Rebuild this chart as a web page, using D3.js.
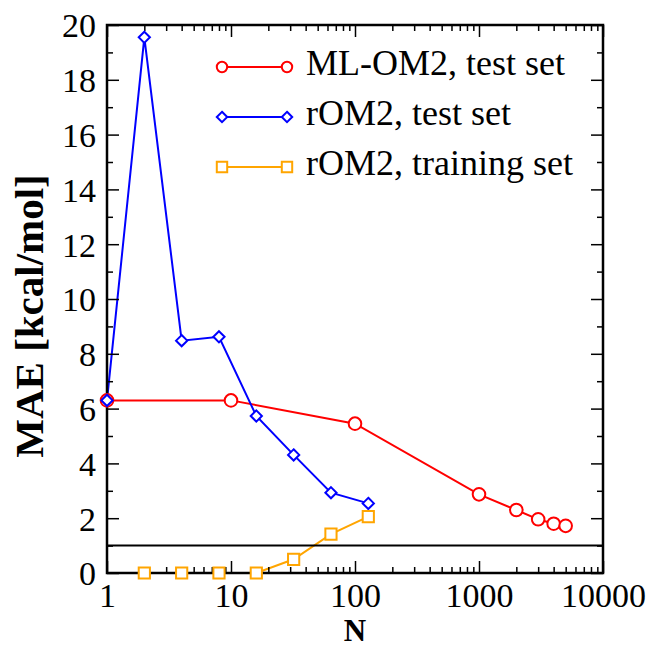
<!DOCTYPE html>
<html>
<head>
<meta charset="utf-8">
<script src="https://cdn.jsdelivr.net/npm/d3@7"></script>
<style>
    body { margin: 0; background: #fff; }
    svg { display: block; font-family: "Liberation Serif", "Times New Roman", serif; }
</style>
</head>
<body>
<div id="chart"></div>
<script>
// data
const seriesNames = ['ML-OM2, test set', 'rOM2, test set', 'rOM2, training set'];
const nMl = [1, 10, 100, 1000, 2000, 3000, 4000, 5000];
const maeMl = [6.3, 6.3, 5.45, 2.87, 2.3, 1.96, 1.8, 1.72];
const nRomTest = [1, 2, 4, 8, 16, 32, 64, 128];
const maeRomTest = [6.3, 19.55, 8.48, 8.62, 5.73, 4.31, 2.93, 2.54];
const nRomTrain = [2, 4, 8, 16, 32, 64, 128];
const maeRomTrain = [0, 0, 0, 0, 0.5, 1.42, 2.06];
const xTicks = [1, 10, 100, 1000, 10000];
const yTicks = [0, 2, 4, 6, 8, 10, 12, 14, 16, 18, 20];
const refLine = 1;

const width = 651;
const height = 647;
const margin = { top: 25, right: 48, bottom: 74, left: 107 };

const svg = d3.select('#chart')
    .append('svg')
    .attr('width', width)
    .attr('height', height);

const xScale = d3.scaleLog()
    .domain([1, 10000])
    .range([margin.left, width - margin.right]);

const yScale = d3.scaleLinear()
    .domain([0, 20])
    .range([height - margin.bottom, margin.top]);

const series = [
    { name: seriesNames[0], xs: nMl, ys: maeMl, color: '#ff0000', shape: 'circle' },
    { name: seriesNames[1], xs: nRomTest, ys: maeRomTest, color: '#0000ff', shape: 'diamond' },
    { name: seriesNames[2], xs: nRomTrain, ys: maeRomTrain, color: '#ffa500', shape: 'square' },
];

// marker path for each shape, centred on 0,0
function markerPath(shape, s) {
    if (shape === 'circle') return d3.symbol(d3.symbolCircle, Math.PI * s * s)();
    if (shape === 'diamond') return `M0,${-s}L${s},0L0,${s}L${-s},0Z`;
    return `M${-s},${-s}H${s}V${s}H${-s}Z`;
}

const line = d3.line()
    .x((d) => xScale(d[0]))
    .y((d) => yScale(d[1]));

// data lines first
series.forEach((s) => {
    svg.append('path')
        .datum(d3.zip(s.xs, s.ys))
        .attr('d', line)
        .attr('fill', 'none')
        .attr('stroke', s.color)
        .attr('stroke-width', 2);
});

// reference line at 1 kcal/mol
svg.append('line')
    .attr('x1', xScale.range()[0])
    .attr('x2', xScale.range()[1])
    .attr('y1', yScale(refLine))
    .attr('y2', yScale(refLine))
    .attr('stroke', '#000')
    .attr('stroke-width', 2);

// axes: ticks pointing inward on all four sides
const x0 = xScale.range()[0], x1 = xScale.range()[1];
const y0 = yScale.range()[0], y1 = yScale.range()[1];
const minorX = xScale.ticks().filter((d) => !xTicks.includes(d));
const minorY = d3.range(1, 20, 2);

const axisStyle = (g) => {
    g.attr('font-family', null);
    g.select('.domain').remove();
    g.selectAll('line').attr('stroke', '#000').attr('stroke-width', 1.5);
};

svg.append('g').attr('transform', `translate(0,${y0})`)
    .call(d3.axisBottom(xScale).tickValues(xTicks).tickSize(-12).tickFormat(d3.format('d')))
    .call(axisStyle)
    .call((g) => g.selectAll('text')
        .attr('y', 34)
        .attr('dy', 0)
        .style('font-size', '34px')
        .attr('fill', '#000'));
svg.append('g').attr('transform', `translate(0,${y0})`)
    .call(d3.axisBottom(xScale).tickValues(minorX).tickSize(-6).tickFormat(''))
    .call(axisStyle);
svg.append('g').attr('transform', `translate(0,${y1})`)
    .call(d3.axisTop(xScale).tickValues(xTicks).tickSize(-12).tickFormat(''))
    .call(axisStyle);
svg.append('g').attr('transform', `translate(0,${y1})`)
    .call(d3.axisTop(xScale).tickValues(minorX).tickSize(-6).tickFormat(''))
    .call(axisStyle);

svg.append('g').attr('transform', `translate(${x0},0)`)
    .call(d3.axisLeft(yScale).tickValues(yTicks).tickSize(-12).tickFormat(d3.format('d')))
    .call(axisStyle)
    .call((g) => g.selectAll('text')
        .attr('x', -11)
        .attr('dy', '0.35em')
        .style('font-size', '34px')
        .attr('fill', '#000'));
svg.append('g').attr('transform', `translate(${x0},0)`)
    .call(d3.axisLeft(yScale).tickValues(minorY).tickSize(-6).tickFormat(''))
    .call(axisStyle);
svg.append('g').attr('transform', `translate(${x1},0)`)
    .call(d3.axisRight(yScale).tickValues(yTicks).tickSize(-12).tickFormat(''))
    .call(axisStyle);
svg.append('g').attr('transform', `translate(${x1},0)`)
    .call(d3.axisRight(yScale).tickValues(minorY).tickSize(-6).tickFormat(''))
    .call(axisStyle);

// frame
svg.append('rect')
    .attr('x', x0)
    .attr('y', y1)
    .attr('width', x1 - x0)
    .attr('height', y0 - y1)
    .attr('fill', 'none')
    .attr('stroke', '#000')
    .attr('stroke-width', 2.5);

// markers on top, white filled
series.forEach((s) => {
    svg.append('g')
        .selectAll('path')
        .data(d3.zip(s.xs, s.ys))
        .join('path')
        .attr('transform', (d) => `translate(${xScale(d[0])},${yScale(d[1])})`)
        .attr('d', markerPath(s.shape, s.shape === 'circle' ? 6.3 : 5.6))
        .attr('fill', '#fff')
        .attr('stroke', s.color)
        .attr('stroke-width', 2);
});

// legend
const legend = svg.append('g').attr('class', 'legend');
series.forEach((s, i) => {
    const cy = 67 + i * 50;
    const row = legend.append('g').attr('transform', `translate(0,${cy})`);
    row.append('line')
        .attr('x1', 222).attr('x2', 287)
        .attr('stroke', s.color)
        .attr('stroke-width', 2);
    [222, 287].forEach((cx) => {
        row.append('path')
            .attr('transform', `translate(${cx},0)`)
            .attr('d', markerPath(s.shape, 5.2))
            .attr('fill', '#fff')
            .attr('stroke', s.color)
            .attr('stroke-width', 2);
    });
    row.append('text')
        .attr('x', 306)
        .attr('y', 8)
        .style('font-size', '36px')
        .attr('fill', '#000')
        .text(s.name);
});

// axis titles
svg.append('text')
    .attr('x', (x0 + x1) / 2)
    .attr('y', 641)
    .attr('text-anchor', 'middle')
    .style('font-size', '31px')
    .style('font-weight', 'bold')
    .text('N');

svg.append('text')
    .attr('transform', `translate(43,316) rotate(-90)`)
    .attr('text-anchor', 'middle')
    .style('font-size', '41px')
    .style('font-weight', 'bold')
    .text('MAE [kcal/mol]');
</script>
</body>
</html>
